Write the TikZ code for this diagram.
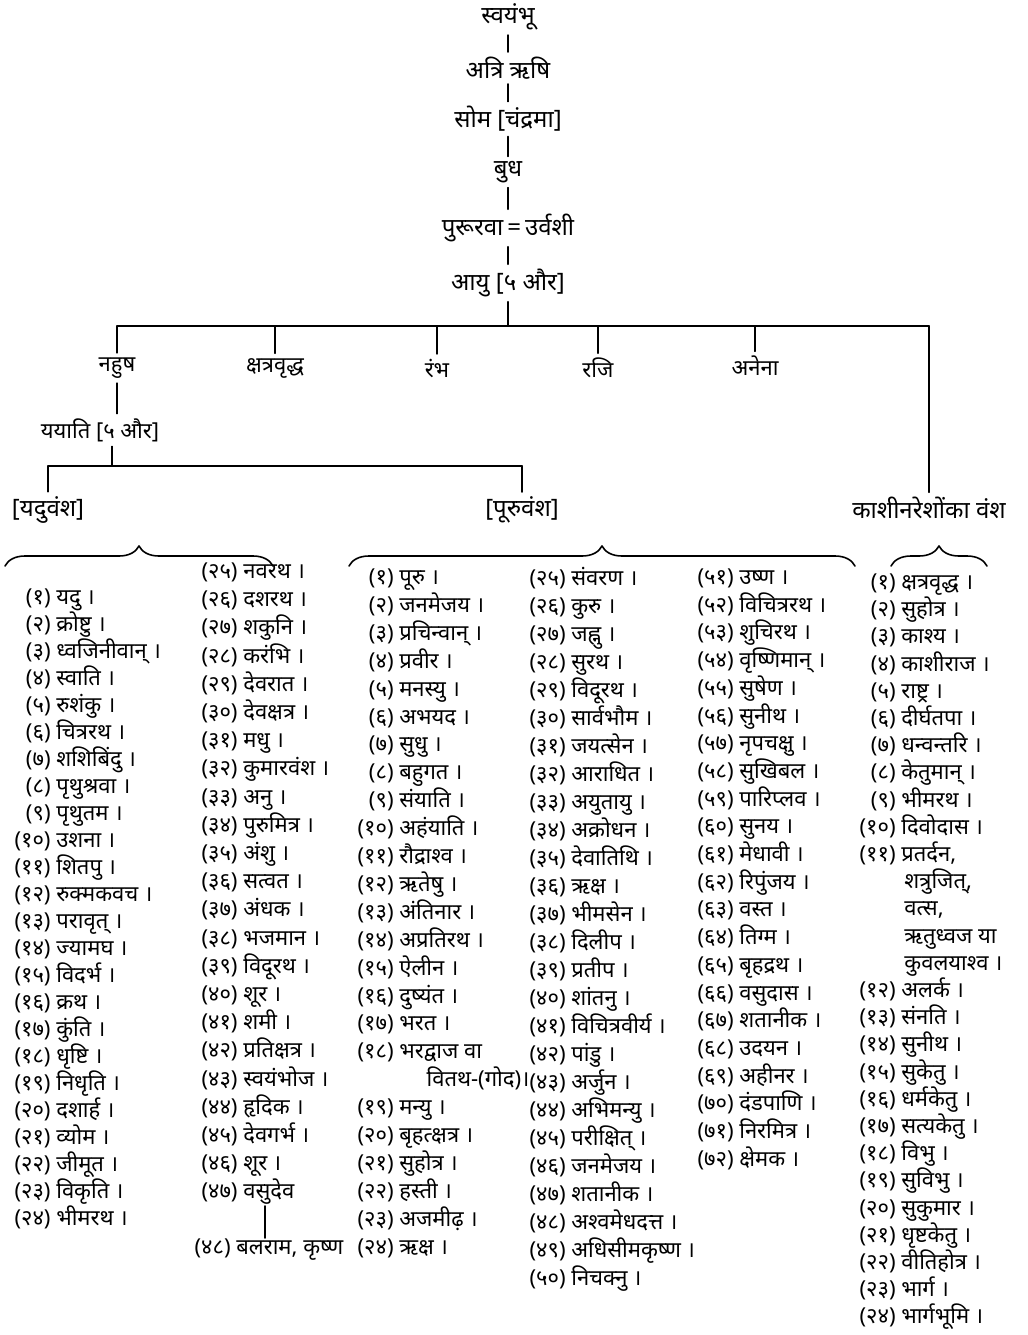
\documentclass[tikz,border=0pt]{standalone}
\usepackage{fontspec}
\setmainfont[Script=Devanagari]{Noto Sans}
\usetikzlibrary{decorations.pathreplacing}

\newcommand{\srno}[1]{\makebox[1.9em][r]{(#1)}}
\newcommand{\rollfont}[1]{\fontsize{11}{#1}\selectfont\lineskiplimit=-50pt\relax}
\tikzset{
  person/.style={font=\fontsize{12}{14}\selectfont, inner sep=2pt},
  branch/.style={font=\fontsize{11}{13}\selectfont, inner sep=2pt},
  vansh/.style={font=\fontsize{12}{14}\selectfont, inner sep=2pt},
  roll/.style={anchor=north west, align=left, inner sep=0pt},
  vbrace/.style={decorate, decoration={brace, amplitude=10pt}},
}

\begin{document}
\begin{tikzpicture}[line cap=round, line join=round, x=0.5pt, y=-0.5pt, thick]
\useasboundingbox (0,0) rectangle (1028,1335);

\node[person] (svayambhu) at (508,17) {स्वयंभू};
\node[person] (atri) at (508,68) {अत्रि ऋषि};
\node[person] (soma) at (508,119) {सोम [चंद्रमा]};
\node[person] (budha) at (508,172) {बुध};
\node[person] (pururava) at (508,228) {पुरूरवा\,=\,उर्वशी};
\node[person] (ayu) at (508,283) {आयु [५ और]};
\coordinate (fork1) at (508,326);

\draw (svayambhu.south) -- (svayambhu.south |- atri.north);
\draw (atri.south) -- (atri.south |- soma.north);
\draw (soma.south) -- (soma.south |- budha.north);
\draw (budha.south) -- (budha.south |- pururava.north);
\draw (pururava.south) -- (pururava.south |- ayu.north);
\draw (ayu.south) -- (fork1);

\node[branch] (nahusha) at (117,368) {नहुष};
\node[branch] (kshatravriddha) at (275,368) {क्षत्रवृद्ध};
\node[branch] (rambha) at (437,368) {रंभ};
\node[branch] (raji) at (598,368) {रजि};
\node[branch] (anena) at (755,366) {अनेना};
\node[vansh] (kashivansh) at (929,508) {काशीनरेशोंका वंश};

\draw (nahusha |- fork1) -- (kashivansh |- fork1);
\draw (nahusha |- fork1) -- (nahusha.north);
\draw (kshatravriddha |- fork1) -- (kshatravriddha.north);
\draw (rambha |- fork1) -- (rambha.north);
\draw (raji |- fork1) -- (raji.north);
\draw (anena |- fork1) -- (anena.north);
\draw (kashivansh |- fork1) -- (kashivansh.north);

\node[branch] (yayati) at (100,430) {ययाति [५ और]};
\coordinate (fork2) at (112,466);
\node[vansh] (yaduvansh) at (48,510) {[यदुवंश]};
\node[vansh] (puruvansh) at (522,510) {[पूरुवंश]};

\draw (nahusha.south) -- (nahusha.south |- yayati.north);
\draw (fork2 |- yayati.south) -- (fork2);
\draw (yaduvansh |- fork2) -- (puruvansh |- fork2);
\draw (yaduvansh |- fork2) -- (yaduvansh.north);
\draw (puruvansh |- fork2) -- (puruvansh.north);

\draw[vbrace] (5,566) -- (273,566);
\draw[vbrace] (349,566) -- (855,566);
\draw[vbrace] (891,566) -- (987,566);

\node[roll, font=\rollfont{13.5}] (yadulist) at (8,588) {%
\srno{१} यदु ।\\
\srno{२} क्रोष्टु ।\\
\srno{३} ध्वजिनीवान् ।\\
\srno{४} स्वाति ।\\
\srno{५} रुशंकु ।\\
\srno{६} चित्ररथ ।\\
\srno{७} शशिबिंदु ।\\
\srno{८} पृथुश्रवा ।\\
\srno{९} पृथुतम ।\\
\srno{१०} उशना ।\\
\srno{११} शितपु ।\\
\srno{१२} रुक्मकवच ।\\
\srno{१३} परावृत् ।\\
\srno{१४} ज्यामघ ।\\
\srno{१५} विदर्भ ।\\
\srno{१६} क्रथ ।\\
\srno{१७} कुंति ।\\
\srno{१८} धृष्टि ।\\
\srno{१९} निधृति ।\\
\srno{२०} दशार्ह ।\\
\srno{२१} व्योम ।\\
\srno{२२} जीमूत ।\\
\srno{२३} विकृति ।\\
\srno{२४} भीमरथ ।};

\node[roll, font=\rollfont{14.1}] (yadulist2) at (195,562) {%
\srno{२५} नवरथ ।\\
\srno{२६} दशरथ ।\\
\srno{२७} शकुनि ।\\
\srno{२८} करंभि ।\\
\srno{२९} देवरात ।\\
\srno{३०} देवक्षत्र ।\\
\srno{३१} मधु ।\\
\srno{३२} कुमारवंश ।\\
\srno{३३} अनु ।\\
\srno{३४} पुरुमित्र ।\\
\srno{३५} अंशु ।\\
\srno{३६} सत्वत ।\\
\srno{३७} अंधक ।\\
\srno{३८} भजमान ।\\
\srno{३९} विदूरथ ।\\
\srno{४०} शूर ।\\
\srno{४१} शमी ।\\
\srno{४२} प्रतिक्षत्र ।\\
\srno{४३} स्वयंभोज ।\\
\srno{४४} हृदिक ।\\
\srno{४५} देवगर्भ ।\\
\srno{४६} शूर ।\\
\srno{४७} वसुदेव};
\node[roll, font=\rollfont{14.1}] (balram) at (188,1238) {\srno{४८} बलराम, कृष्ण};
\coordinate (vasudeva) at (265,1206);
\draw (vasudeva) -- (vasudeva |- balram.north);

\node[roll, font=\rollfont{13.95}] (purulist) at (351,568) {%
\srno{१} पूरु ।\\
\srno{२} जनमेजय ।\\
\srno{३} प्रचिन्वान् ।\\
\srno{४} प्रवीर ।\\
\srno{५} मनस्यु ।\\
\srno{६} अभयद ।\\
\srno{७} सुधु ।\\
\srno{८} बहुगत ।\\
\srno{९} संयाति ।\\
\srno{१०} अहंयाति ।\\
\srno{११} रौद्राश्व ।\\
\srno{१२} ऋतेषु ।\\
\srno{१३} अंतिनार ।\\
\srno{१४} अप्रतिरथ ।\\
\srno{१५} ऐलीन ।\\
\srno{१६} दुष्यंत ।\\
\srno{१७} भरत ।\\
\srno{१८} भरद्वाज वा\\
\hspace*{3.4em}वितथ-(गोद)।\\
\srno{१९} मन्यु ।\\
\srno{२०} बृहत्क्षत्र ।\\
\srno{२१} सुहोत्र ।\\
\srno{२२} हस्ती ।\\
\srno{२३} अजमीढ़ ।\\
\srno{२४} ऋक्ष ।};

\node[roll, font=\rollfont{14}] (purulist2) at (523,566) {%
\srno{२५} संवरण ।\\
\srno{२६} कुरु ।\\
\srno{२७} जह्नु ।\\
\srno{२८} सुरथ ।\\
\srno{२९} विदूरथ ।\\
\srno{३०} सार्वभौम ।\\
\srno{३१} जयत्सेन ।\\
\srno{३२} आराधित ।\\
\srno{३३} अयुतायु ।\\
\srno{३४} अक्रोधन ।\\
\srno{३५} देवातिथि ।\\
\srno{३६} ऋक्ष ।\\
\srno{३७} भीमसेन ।\\
\srno{३८} दिलीप ।\\
\srno{३९} प्रतीप ।\\
\srno{४०} शांतनु ।\\
\srno{४१} विचित्रवीर्य ।\\
\srno{४२} पांडु ।\\
\srno{४३} अर्जुन ।\\
\srno{४४} अभिमन्यु ।\\
\srno{४५} परीक्षित् ।\\
\srno{४६} जनमेजय ।\\
\srno{४७} शतानीक ।\\
\srno{४८} अश्वमेधदत्त ।\\
\srno{४९} अधिसीमकृष्ण ।\\
\srno{५०} निचक्नु ।};

\node[roll, font=\rollfont{13.85}] (purulist3) at (691,568) {%
\srno{५१} उष्ण ।\\
\srno{५२} विचित्ररथ ।\\
\srno{५३} शुचिरथ ।\\
\srno{५४} वृष्णिमान् ।\\
\srno{५५} सुषेण ।\\
\srno{५६} सुनीथ ।\\
\srno{५७} नृपचक्षु ।\\
\srno{५८} सुखिबल ।\\
\srno{५९} पारिप्लव ।\\
\srno{६०} सुनय ।\\
\srno{६१} मेधावी ।\\
\srno{६२} रिपुंजय ।\\
\srno{६३} वस्त ।\\
\srno{६४} तिग्म ।\\
\srno{६५} बृहद्रथ ।\\
\srno{६६} वसुदास ।\\
\srno{६७} शतानीक ।\\
\srno{६८} उदयन ।\\
\srno{६९} अहीनर ।\\
\srno{७०} दंडपाणि ।\\
\srno{७१} निरमित्र ।\\
\srno{७२} क्षेमक ।};

\node[roll, font=\rollfont{13.6}] (kashilist) at (853,573) {%
\srno{१} क्षत्रवृद्ध ।\\
\srno{२} सुहोत्र ।\\
\srno{३} काश्य ।\\
\srno{४} काशीराज ।\\
\srno{५} राष्ट्र ।\\
\srno{६} दीर्घतपा ।\\
\srno{७} धन्वन्तरि ।\\
\srno{८} केतुमान् ।\\
\srno{९} भीमरथ ।\\
\srno{१०} दिवोदास ।\\
\srno{११} प्रतर्दन,\\
\hspace*{2.3em}शत्रुजित्,\\
\hspace*{2.3em}वत्स,\\
\hspace*{2.3em}ऋतुध्वज या\\
\hspace*{2.3em}कुवलयाश्व ।\\
\srno{१२} अलर्क ।\\
\srno{१३} संनति ।\\
\srno{१४} सुनीथ ।\\
\srno{१५} सुकेतु ।\\
\srno{१६} धर्मकेतु ।\\
\srno{१७} सत्यकेतु ।\\
\srno{१८} विभु ।\\
\srno{१९} सुविभु ।\\
\srno{२०} सुकुमार ।\\
\srno{२१} धृष्टकेतु ।\\
\srno{२२} वीतिहोत्र ।\\
\srno{२३} भार्ग ।\\
\srno{२४} भार्गभूमि ।};

\end{tikzpicture}
\end{document}
